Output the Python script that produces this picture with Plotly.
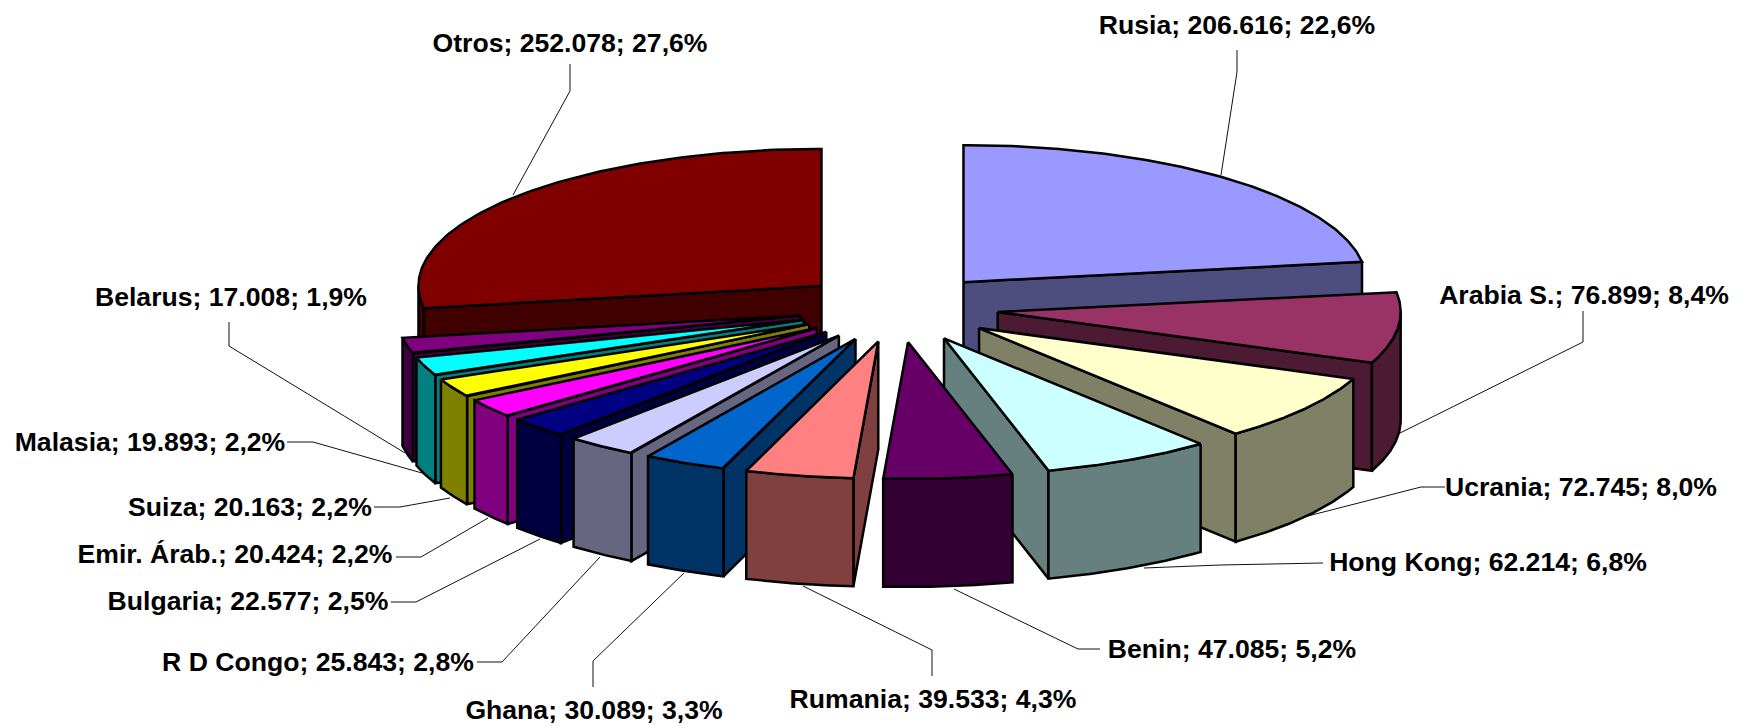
import numpy as np
import plotly.graph_objects as go

# ---- data ----
countries = ["Rusia", "Arabia S.", "Ucrania", "Hong Kong", "Benin", "Rumania", "Ghana",
             "R D Congo", "Bulgaria", "Emir. Árab.", "Suiza", "Malasia", "Belarus", "Otros"]
values = [206616, 76899, 72745, 62214, 47085, 39533, 30089,
          25843, 22577, 20424, 20163, 19893, 17008, 252078]
top_colors = ["#9999FF", "#993366", "#FFFFCC", "#CCFFFF", "#660066", "#FF8080", "#0066CC",
              "#CCCCFF", "#000080", "#FF00FF", "#FFFF00", "#00FFFF", "#800080", "#800000"]
side_colors = ["#4D4D80", "#4D1A33", "#808066", "#668080", "#330033", "#804040", "#003366",
               "#666680", "#000040", "#800080", "#808000", "#008080", "#400040", "#400000"]

# ---- projection of the tilted, exploded pie onto the chart's axes ----
CX, CY = 898, 308
RX, RY = 403, 137
EXPLODE = 0.249
DEPTH = 108

# ---- text placement and leader lines ----
label_x = [1237, 1584, 1581, 1488, 1232, 933, 594, 318, 248, 235, 250, 150, 231, 570]
label_y = [27, 297, 489, 564, 651, 701, 712, 664, 603, 556, 509, 444, 299, 45]
leaders = [
    [(1237, 50), (1237, 72), (1221, 175)],
    [(1583, 311), (1583, 342), (1398, 434)],
    [(1445, 487), (1421, 487), (1300, 518)],
    [(1323, 563), (1220, 565), (1144, 568)],
    [(1100, 649), (1078, 649), (954, 589)],
    [(932, 676), (932, 650), (803, 586)],
    [(593, 687), (593, 661), (684, 573)],
    [(477, 662), (502, 662), (600, 557)],
    [(391, 602), (416, 602), (540, 539)],
    [(396, 557), (421, 557), (488, 518)],
    [(374, 507), (400, 507), (450, 498)],
    [(287, 442), (313, 442), (422, 473)],
    [(229, 322), (229, 346), (405, 453)],
    [(570, 64), (570, 91), (513, 195)],
]

total = sum(values)


def fmt_label(name, v):
    pct = f"{100 * v / total:.1f}".replace(".", ",")
    return f"{name}; {v:,}".replace(",", ".") + f"; {pct}%"


def rim(theta, ox, oy):
    return ox + RX * np.sin(theta), oy - RY * np.cos(theta)


fig = go.Figure()


def face(xs, ys, color):
    fig.add_trace(go.Scatter(
        x=list(xs) + [xs[0]], y=list(ys) + [ys[0]], mode="lines", fill="toself",
        fillcolor=color, line=dict(color="black", width=2.5), hoverinfo="skip", showlegend=False))


for pts in leaders:
    fig.add_trace(go.Scatter(
        x=[p[0] for p in pts], y=[p[1] for p in pts], mode="lines",
        line=dict(color="#111111", width=1), hoverinfo="skip", showlegend=False))

fractions = np.array(values) / total
ends = 2 * np.pi * np.cumsum(fractions)
starts = ends - 2 * np.pi * fractions
mids = (starts + ends) / 2

for i in np.argsort(-np.cos(mids)):
    t0, t1, tm = starts[i], ends[i], mids[i]
    ox = CX + EXPLODE * RX * np.sin(tm)
    oy = CY - EXPLODE * RY * np.cos(tm)
    top, side = top_colors[i], side_colors[i]

    # radial cut faces facing the viewer
    if np.sin(t0) < 0:
        rx0, ry0 = rim(t0, ox, oy)
        face([ox, rx0, rx0, ox], [oy, ry0, ry0 + DEPTH, oy + DEPTH], side)
    if np.sin(t1) > 0:
        rx1, ry1 = rim(t1, ox, oy)
        face([ox, rx1, rx1, ox], [oy, ry1, ry1 + DEPTH, oy + DEPTH], side)

    # curved outer wall (front half only)
    a0, a1 = max(t0, np.pi / 2), min(t1, 3 * np.pi / 2)
    if a1 > a0:
        th = np.linspace(a0, a1, 60)
        wx, wy = rim(th, ox, oy)
        face(np.r_[wx, wx[::-1]], np.r_[wy, wy[::-1] + DEPTH], side)

    # top surface
    th = np.linspace(t0, t1, 120)
    tx, ty = rim(th, ox, oy)
    face(np.r_[ox, tx], np.r_[oy, ty], top)

fig.add_trace(go.Scatter(
    x=label_x, y=label_y, mode="text",
    text=[fmt_label(n, v) for n, v in zip(countries, values)],
    textposition="middle center",
    textfont=dict(family="Liberation Sans", size=26.6, color="black", weight=700),
    hoverinfo="skip", showlegend=False))

fig.update_layout(
    width=1743, height=726, margin=dict(l=0, r=0, t=0, b=0),
    paper_bgcolor="white", plot_bgcolor="white", showlegend=False,
    xaxis=dict(range=[0, 1743], visible=False, fixedrange=True),
    yaxis=dict(range=[726, 0], visible=False, fixedrange=True),
)
fig.write_html("out.html", config={"displayModeBar": False},
               post_script="document.body.style.margin='0';document.body.style.overflow='hidden';")
